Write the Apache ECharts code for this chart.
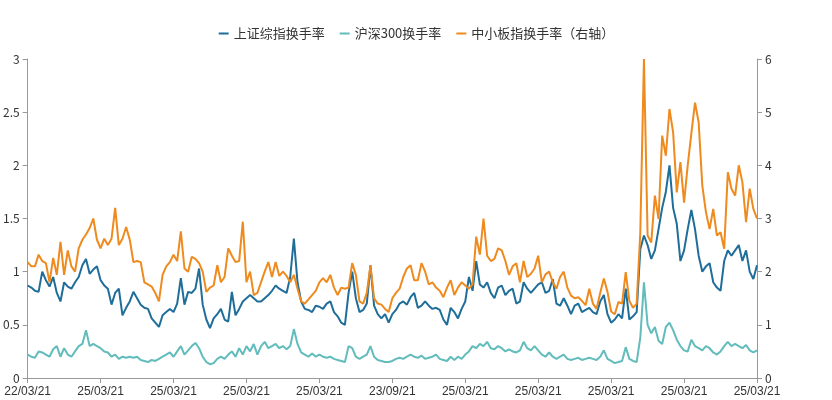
<!DOCTYPE html>
<html>
<head>
<meta charset="utf-8">
<script src="https://cdn.jsdelivr.net/npm/echarts@6/dist/echarts.min.js"></script>
<style>html,body{margin:0;padding:0;background:#fff;}#chart{width:832px;height:400px;}</style>
</head>
<body>
<div id="chart"></div>
<script>
// tick labels shown every 20 points
var xTickLabels = ['22/03/21','25/03/21','25/03/21','25/03/21','25/03/21','23/09/21','25/03/21','25/03/21','25/03/21','25/03/21','25/03/21'];

// 上证综指换手率 (left axis)
var szTurnover = [
  .87,.85,.82,.81,1.0,.92,.86,.95,.8,.72, .9,.86,.84,.9,.95,1.06,1.12,.98,1.02,1.05,
  .92,.87,.84,.69,.8,.84,.59,.66,.72,.81, .75,.69,.66,.65,.56,.52,.48,.59,.62,.65,
  .62,.7,.94,.69,.81,.8,.84,1.03,.69,.55, .47,.56,.6,.65,.55,.53,.81,.59,.65,.72,
  .75,.78,.75,.72,.72,.75,.78,.82,.87,
  .84,.82,.8,.95,1.31,.9,.72,.65,.64,.62, .68,.67,.65,.7,.72,.62,.58,.52,.5,.8,
  1.0,.75,.62,.64,.7,1.06,.68,.6,.56,.6, .52,.6,.64,.7,.72,.69,.76,.8,.66,.68,
  .72,.68,.65,.66,.64,.55,.5,.66,.62,.56, .65,.72,.95,.82,1.1,.88,.85,.9,.8,.75,
  .85,.87,.78,.82,.84,.7,.72,.9,.84,.8,.84,
  .88,.9,.8,.82,.93,.7,.68,.75,.68,.6, .68,.7,.62,.64,.66,.62,.6,.72,.78,.6,
  .52,.55,.6,.56,.84,.55,.58,.62,1.21,1.34, 1.25,1.12,1.2,1.4,1.6,1.75,2.0,1.6,1.45,1.1,
  1.2,1.4,1.58,1.4,1.15,1.0,1.05,1.08,.9,.85, .82,1.1,1.2,1.15,1.2,1.25,1.1,1.2,1.0,.93,1.06
];
// 沪深300换手率 (left axis)
var hs300Turnover = [
  .22,.2,.19,.25,.24,.22,.2,.27,.3,.2, .28,.22,.2,.25,.3,.32,.45,.3,.32,.3,
  .28,.25,.24,.2,.22,.18,.2,.19,.2,.19, .2,.17,.16,.15,.17,.16,.18,.2,.22,.24,
  .2,.25,.3,.22,.26,.3,.33,.28,.2,.15, .13,.14,.18,.2,.18,.22,.25,.2,.28,.22,
  .3,.25,.32,.22,.3,.34,.28,.3,.32,
  .28,.3,.27,.3,.46,.32,.24,.22,.2,.23, .2,.22,.2,.19,.2,.18,.17,.16,.15,.3,
  .28,.2,.18,.2,.22,.3,.2,.17,.16,.15, .15,.16,.18,.19,.18,.2,.22,.2,.19,.21,
  .18,.19,.2,.22,.18,.17,.16,.2,.17,.2, .18,.22,.25,.3,.28,.32,.3,.34,.28,.27,
  .3,.28,.25,.27,.25,.24,.26,.34,.28,.26,.3,
  .26,.22,.2,.24,.2,.18,.2,.22,.18,.17, .18,.19,.17,.18,.19,.18,.17,.2,.26,.18,
  .16,.14,.15,.16,.29,.18,.16,.15,.38,.9, .5,.42,.48,.35,.32,.48,.52,.45,.36,.3,
  .26,.25,.36,.3,.28,.26,.3,.28,.24,.22, .25,.3,.34,.3,.32,.3,.28,.31,.26,.24,.26
];
// 中小板指换手率 (right axis)
var smeTurnover = [
  2.18,2.1,2.1,2.32,2.2,2.16,1.8,2.26,1.94,2.56, 1.94,2.4,2.1,2.0,2.44,2.6,2.7,2.82,3.0,2.6,
  2.44,2.62,2.5,2.62,3.2,2.5,2.62,2.84,2.6,2.18, 2.2,2.18,1.8,1.76,1.72,1.6,1.44,1.94,2.1,2.18,
  2.32,2.2,2.76,2.06,2.0,2.28,2.24,2.16,2.0,1.62, 1.7,1.74,2.12,1.8,1.9,2.44,2.3,2.18,2.2,2.94,
  1.8,2.0,1.56,1.6,1.8,2.0,2.18,1.9,2.18,
  1.92,2.0,1.92,1.8,1.94,1.68,1.44,1.4,1.48,1.56, 1.64,1.8,1.88,1.8,1.94,1.7,1.56,1.7,1.68,1.7,
  2.16,1.94,1.44,1.4,1.6,2.12,1.5,1.4,1.38,1.3, 1.24,1.5,1.6,1.68,1.9,2.06,2.12,1.84,1.84,2.16,
  2.0,1.76,1.8,1.7,1.64,1.52,1.7,1.84,1.56,1.7, 1.8,1.74,1.68,1.76,2.66,2.32,3.0,2.3,2.2,2.24,
  2.44,2.4,2.2,1.94,2.1,2.16,1.8,2.2,1.9,1.96,2.06,
  2.3,1.8,1.95,2.0,1.8,1.68,1.9,2.0,1.7,1.55, 1.5,1.52,1.45,1.37,1.68,1.4,1.3,1.6,1.87,1.62,
  1.25,1.2,1.43,1.4,1.99,1.45,1.32,1.4,2.74,6.0, 2.68,2.55,3.43,2.99,4.56,4.18,5.06,4.62,3.49,4.06,
  3.3,4.0,4.6,5.18,4.81,3.62,3.12,2.8,3.18,2.68, 2.74,2.43,3.87,3.56,3.43,4.0,3.68,2.93,3.56,3.18,3.0
];

var categories = [];
for (var i = 0; i < szTurnover.length; i++) categories.push(i);

var myChart = echarts.init(document.getElementById('chart'));
var axisStyle = {lineStyle: {color: '#999'}};
var labelStyle = {color: '#333', fontSize: 12, fontFamily: 'Noto Sans CJK SC'};
var option = {
    backgroundColor: '#fff',
    animation: false,
    legend: {
        top: 22,
        itemWidth: 10,
        itemHeight: 2,
        itemGap: 14,
        textStyle: {color: '#333', fontSize: 13, fontFamily: 'Noto Sans CJK SC'},
        data: ['上证综指换手率', '沪深300换手率', '中小板指换手率（右轴）']
    },
    grid: {left: 25, right: 75, top: 59, bottom: 22},
    xAxis: {
        type: 'category',
        boundaryGap: false,
        data: categories,
        axisLine: axisStyle,
        axisTick: {show: true, interval: 19, lineStyle: {color: '#999'}},
        axisLabel: {
            interval: 19,
            color: '#333', fontSize: 12,
            formatter: function (v, idx) { return xTickLabels[Math.round(idx / 20)] || ''; }
        }
    },
    yAxis: [{
        type: 'value', min: 0, max: 3, interval: 0.5,
        axisLine: {show: true, lineStyle: {color: '#999'}},
        axisTick: {show: true, lineStyle: {color: '#999'}},
        splitLine: {show: false},
        axisLabel: labelStyle
    }, {
        type: 'value', min: 0, max: 6, interval: 1,
        axisLine: {show: true, lineStyle: {color: '#999'}},
        axisTick: {show: true, lineStyle: {color: '#999'}},
        splitLine: {show: false},
        axisLabel: labelStyle
    }],
    series: [{
        name: '上证综指换手率', type: 'line', data: szTurnover, symbol: 'none',
        color: '#1f6e9a', lineStyle: {width: 2}
    }, {
        name: '沪深300换手率', type: 'line', data: hs300Turnover, symbol: 'none',
        color: '#62bcbc', lineStyle: {width: 2}
    }, {
        name: '中小板指换手率（右轴）', type: 'line', yAxisIndex: 1, data: smeTurnover, symbol: 'none',
        color: '#ef8a1e', lineStyle: {width: 2}
    }]
};
myChart.setOption(option);
window.onresize = function () { myChart.resize(); };
</script>
</body>
</html>
